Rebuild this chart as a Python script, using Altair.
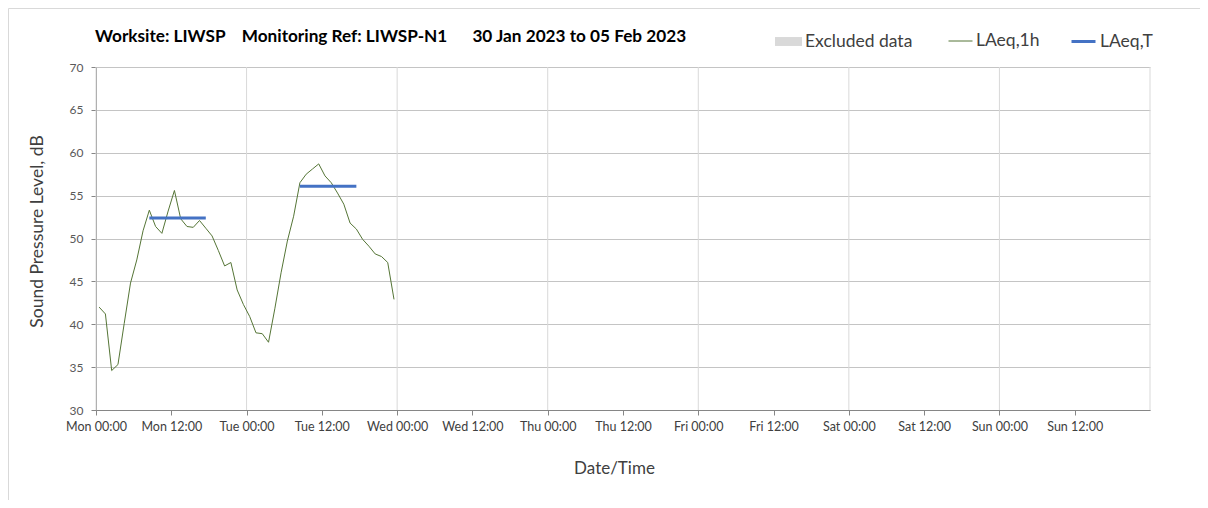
import altair as alt
import pandas as pd

# ---- data ----
title_text = "Worksite: LIWSP\u00a0\u00a0\u00a0\u00a0Monitoring Ref: LIWSP-N1\u00a0\u00a0\u00a0\u00a0\u00a0\u00a030 Jan 2023 to 05 Feb 2023"
start_time = "2023-01-30 00:30"
laeq_1h = [42.0, 41.2, 34.6, 35.3, 40.1, 44.8, 47.5, 50.9, 53.3, 51.4, 50.6, 53.2,
           55.6, 52.3, 51.4, 51.3, 52.1, 51.2, 50.3, 48.6, 46.8, 47.2, 44.0, 42.3,
           40.9, 39.0, 38.9, 37.9, 41.8, 46.0, 49.7, 52.6, 56.5, 57.5, 58.1, 58.7,
           57.3, 56.5, 55.3, 54.0, 51.8, 51.1, 49.9, 49.1, 48.2, 47.9, 47.2, 42.9]
laeq_t_start = ["2023-01-30T08:30:00", "2023-01-31T08:30:00"]
laeq_t_end = ["2023-01-30T17:30:00", "2023-01-31T17:30:00"]
laeq_t_level = [52.4, 56.1]
excluded_periods = []  # no excluded data in this week
series_names = ["LAeq,1h", "LAeq,T"]
series_colors = ["#557536", "#4472C4"]
series_widths = [1, 3]
y_ticks = [30, 35, 40, 45, 50, 55, 60, 65, 70]

FONT = "Lato"
W, H = 1054, 343

times = pd.date_range(start_time, periods=len(laeq_1h), freq="60min").strftime("%Y-%m-%dT%H:%M:%S")
rows = [{"time": t, "level": v, "series": "LAeq,1h", "grp": "h"} for t, v in zip(times, laeq_1h)]
for i, (s, e, v) in enumerate(zip(laeq_t_start, laeq_t_end, laeq_t_level)):
    rows.append({"time": s, "level": v, "series": "LAeq,T", "grp": f"T{i}"})
    rows.append({"time": e, "level": v, "series": "LAeq,T", "grp": f"T{i}"})
df = pd.DataFrame(rows)

tick_times = pd.date_range("2023-01-30 00:00", periods=15, freq="720min")
tick_values = [alt.DateTime(year=t.year, month=t.month, date=t.day, hours=t.hour) for t in tick_times]
day_lines = pd.DataFrame({"day": pd.date_range("2023-01-30", periods=8, freq="1D").strftime("%Y-%m-%dT%H:%M:%S")})

x_scale = alt.Scale(domain=[alt.DateTime(year=2023, month=1, date=30),
                            alt.DateTime(year=2023, month=2, date=6)], nice=False)
y_scale = alt.Scale(domain=[30, 70], nice=False, zero=False)

x_axis = alt.Axis(
    title="Date/Time",
    format="%a %H:%M",
    values=tick_values[:-1],
    grid=False,
    domainColor="#868686",
    tickColor="#868686",
    tickSize=5,
    labelFont=FONT, labelFontSize=12.5, labelColor="#404040", labelPadding=5,
    labelFlush=False, labelOverlap=False,
    titleFont=FONT, titleFontSize=17, titleFontWeight="normal", titleColor="#404040",
    titleX=518, titleY=58, titleBaseline="middle",
)
y_axis = alt.Axis(
    title="Sound Pressure Level, dB",
    values=y_ticks,
    grid=True, gridColor="#C4C4C4",
    domainColor="#868686", tickColor="#868686", tickSize=5,
    labelFont=FONT, labelFontSize=12, labelColor="#595959", labelPadding=8,
    titleFont=FONT, titleFontSize=17.5, titleFontWeight="normal", titleColor="#404040",
    titleX=-59, titleY=164, titleBaseline="middle", titleAngle=-90,
)

leg = dict(title=None, orient="none", legendX=852, legendY=-39,
           direction="horizontal", symbolType="stroke",
           symbolSize=576, labelFont=FONT, labelFontSize=17.5,
           labelColor="#404040", labelOffset=3, columnPadding=25, padding=0)

frame_left = alt.Chart(alt.Data(values=[{}])).mark_rule(color="#D9D9D9", strokeWidth=1).encode(
    x=alt.value(-87.5), y=alt.value(-58.5), y2=alt.value(H + 300))
frame_top = alt.Chart(alt.Data(values=[{}])).mark_rule(color="#D9D9D9", strokeWidth=1).encode(
    x=alt.value(-87.5), x2=alt.value(W + 300), y=alt.value(-58.5))

grid_v = alt.Chart(day_lines).mark_rule(color="#D9D9D9", strokeWidth=1).encode(
    x=alt.X("day:T", scale=x_scale, axis=x_axis),
    y=alt.value(0), y2=alt.value(H),
)

excluded = alt.Chart(alt.Data(values=excluded_periods)).mark_rect(opacity=1).encode(
    x=alt.X("start:T", scale=x_scale),
    x2="end:T",
    y=alt.value(0),
    y2=alt.value(H),
    fill=alt.Fill("label:N", scale=alt.Scale(domain=["Excluded data"], range=["#D9D9D9"]),
                  legend=alt.Legend(title=None, orient="none", legendX=679, legendY=-39,
                                    symbolType="M-1,-0.33H1V0.33H-1Z", symbolSize=729,
                                    symbolStrokeWidth=0,
                                    labelFont=FONT, labelFontSize=17.5, labelColor="#404040",
                                    labelOffset=3, padding=0)),
)

lines = alt.Chart(df).mark_line(interpolate="linear").encode(
    x=alt.X("time:T", scale=x_scale, axis=x_axis),
    y=alt.Y("level:Q", scale=y_scale, axis=y_axis),
    stroke=alt.Stroke("series:N", scale=alt.Scale(domain=series_names, range=series_colors),
                      legend=alt.Legend(**leg)),
    strokeWidth=alt.StrokeWidth("series:N", scale=alt.Scale(domain=series_names, range=series_widths),
                                legend=alt.Legend(**leg)),
    detail="grp:N",
)

title = alt.Chart(alt.Data(values=[{"t": title_text}])).mark_text(
    align="left", baseline="middle", font=FONT, fontSize=17.2, fontWeight="bold", color="#000000"
).encode(text="t:N", x=alt.value(-1), y=alt.value(-30))

chart = alt.layer(frame_left, frame_top, grid_v, excluded, lines, title).properties(
    width=W, height=H,
    autosize=alt.AutoSizeParams(type="none"),
    padding={"left": 88, "top": 59, "right": 50, "bottom": 90},
).configure_view(strokeWidth=0)

chart.save("out.html", embed_options={"renderer": "svg", "actions": False})
